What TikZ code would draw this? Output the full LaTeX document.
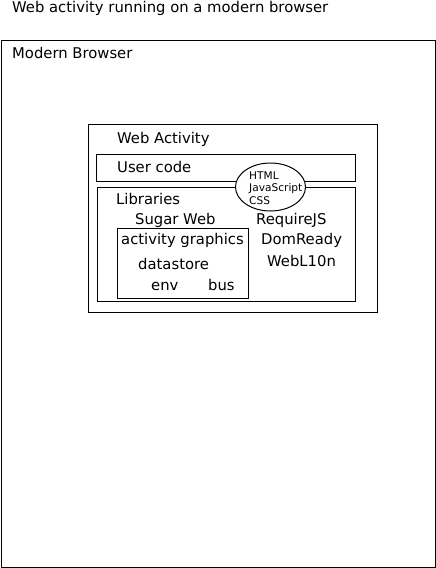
\documentclass[tikz,border=0pt]{standalone}
\usepackage{fontspec}
\setmainfont{DejaVu Sans}
\usetikzlibrary{shapes.geometric}
\begin{document}
\begin{tikzpicture}[
        x=1pt, y=-1pt,
        box/.style={rectangle, draw, line width=1pt, inner sep=0pt, anchor=north west},
        label/.style={anchor=west, inner sep=0pt, text height=14pt, text depth=3pt, font=\fontsize{14.8}{17}\selectfont},
        bubble/.style={ellipse, draw, fill=white, line width=1pt, inner sep=0pt, minimum width=70pt, minimum height=48pt}
    ]
        \useasboundingbox (0,0) rectangle (436,568);

        \node[label] (title) at (12,7) {Web activity running on a modern browser};

        \node[box, minimum width=434pt, minimum height=527pt] (browser) at (1,40) {};
        \node[label] (browserlabel) at (12,53) {Modern Browser};

        \node[box, minimum width=289pt, minimum height=188pt] (activity) at (88,124) {};
        \node[label] (activitylabel) at (117,138) {Web Activity};

        \node[box, minimum width=259pt, minimum height=27pt] (usercode) at (96,154) {};
        \node[label] (usercodelabel) at (117,167) {User code};

        \node[box, minimum width=258pt, minimum height=114pt] (libraries) at (97,187) {};
        \node[label] (librarieslabel) at (116,199) {Libraries};

        \node[bubble] (tech) at (270.5,187) {};
        \node[anchor=west, inner sep=0pt, align=left, font=\fontsize{10.6}{12.5}\selectfont] (techlabel) at (249,188) {HTML\\JavaScript\\CSS};

        \node[label] (sugarweb) at (135,219) {Sugar Web};
        \node[box, minimum width=131pt, minimum height=70pt] (sugarbox) at (117,228) {};
        \node[label] (actgraph) at (121,239) {activity graphics};
        \node[label] (datastore) at (138,264) {datastore};
        \node[label] (env) at (151,285) {env};
        \node[label] (bus) at (208,285) {bus};

        \node[label] (requirejs) at (256,219) {RequireJS};
        \node[label] (domready) at (261,239) {DomReady};
        \node[label] (webl10n) at (267,261) {WebL10n};
    \end{tikzpicture}
\end{document}
